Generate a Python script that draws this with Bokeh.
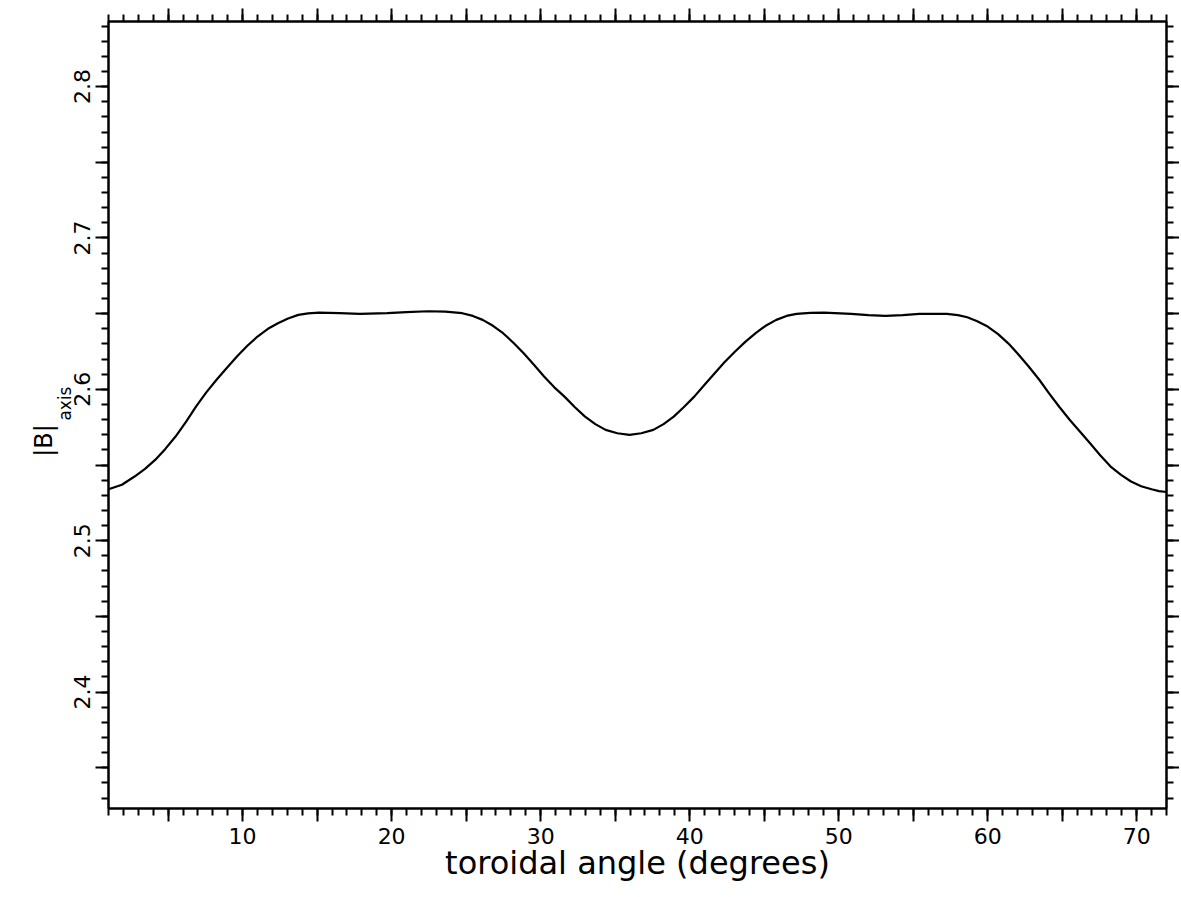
import json
from bokeh.plotting import figure
from bokeh.models import LinearAxis, FixedTicker, CustomJSTickFormatter, Range1d
from bokeh.embed import file_html
from bokeh.resources import INLINE

# ---- data ----
angle_deg = [1.0, 1.9, 2.75, 3.45, 4.13, 4.8, 5.5, 6.2, 6.87, 7.55, 8.25, 8.95, 9.62, 10.3,
             11.0, 11.7, 12.37, 13.05, 13.74, 14.4, 15.12, 16.5, 17.87, 19.7, 21.0, 22.45,
             23.6, 24.74, 25.45, 26.11, 26.8, 27.48, 28.17, 28.86, 29.55, 30.23, 30.9,
             31.6, 32.3, 32.98, 33.67, 34.36, 35.15, 35.96, 36.75, 37.56, 38.25, 38.93,
             39.6, 40.31, 41.0, 41.68, 42.35, 43.05, 43.75, 44.43, 45.1, 45.81, 46.5,
             47.17, 48.1, 49.01, 50.84, 52.0, 53.13, 54.3, 55.42, 57.26, 58.0, 58.63,
             59.3, 60.0, 60.7, 61.38, 62.05, 62.75, 63.45, 64.12, 64.8, 65.5, 66.2,
             66.87, 67.55, 68.25, 68.95, 69.62, 70.3, 71.0, 71.5, 72.0]
b_axis = [2.5340, 2.5370, 2.5424, 2.5475, 2.5534, 2.5605, 2.5688, 2.5785, 2.5886, 2.5978,
          2.6063, 2.6143, 2.6217, 2.6286, 2.6349, 2.6400, 2.6437, 2.6468, 2.6492, 2.6502,
          2.6507, 2.6504, 2.6499, 2.6503, 2.6510, 2.6516, 2.6513, 2.6503, 2.6485, 2.6459,
          2.6420, 2.6371, 2.6308, 2.6238, 2.6162, 2.6085, 2.6015, 2.5952, 2.5882, 2.5820,
          2.5770, 2.5732, 2.5710, 2.5699, 2.5710, 2.5732, 2.5770, 2.5820, 2.5882, 2.5952,
          2.6030, 2.6106, 2.6180, 2.6250, 2.6315, 2.6371, 2.6420, 2.6459, 2.6485, 2.6499,
          2.6505, 2.6507, 2.6499, 2.6490, 2.6485, 2.6490, 2.6499, 2.6499, 2.6490, 2.6476,
          2.6450, 2.6415, 2.6365, 2.6304, 2.6232, 2.6151, 2.6065, 2.5974, 2.5885, 2.5799,
          2.5720, 2.5644, 2.5565, 2.5490, 2.5435, 2.5391, 2.5360, 2.5340, 2.5328, 2.5322]

x_major_ticks = [5, 10, 15, 20, 25, 30, 35, 40, 45, 50, 55, 60, 65, 70]
x_minor_ticks = list(range(1, 73))
y_major_ticks = [2.35, 2.40, 2.45, 2.50, 2.55, 2.60, 2.65, 2.70, 2.75, 2.80]
y_minor_ticks = [round(2.33 + 0.01 * i, 2) for i in range(52)]

x_title = "toroidal angle (degrees)"
y_title_main = "|B|"
y_title_sub = "axis"
# vertical centre (in |B| units) at which each part of the y title sits
y_title_main_at = 2.5662
y_title_sub_at = 2.5906

FONT = "DejaVu Sans"

p = figure(frame_width=1058, frame_height=787,
           x_range=Range1d(1, 72), y_range=Range1d(2.3231, 2.843),
           output_backend="svg", toolbar_location=None,
           min_border_left=108, min_border_top=21, min_border_right=2,
           min_border_bottom=2,
           background_fill_color="white", border_fill_color="white",
           x_axis_location=None, y_axis_location=None)
p.xgrid.visible = False
p.ygrid.visible = False
p.outline_line_color = "black"
p.outline_line_width = 2

xfmt = CustomJSTickFormatter(code="""
const v = Math.round(tick);
return (v % 10 === 0) ? v.toString() : "";
""")
yfmt = CustomJSTickFormatter(code="""
const v = Math.round(tick * 100);
return (v % 10 === 0) ? (v / 100).toFixed(1) : "";
""")


def blank_fmt():
    return CustomJSTickFormatter(code="return '';")


def style(ax, labels=True):
    ax.axis_line_color = "black"
    ax.axis_line_width = 2
    ax.major_tick_line_color = "black"
    ax.minor_tick_line_color = "black"
    ax.major_tick_line_width = 2
    ax.minor_tick_line_width = 2
    ax.major_tick_out = 13
    ax.major_tick_in = 0
    ax.minor_tick_out = 7
    ax.minor_tick_in = 0
    ax.major_label_text_color = "black"
    ax.major_label_text_font = FONT
    ax.major_label_text_font_size = "22px"
    if not labels:
        ax.major_label_text_font_size = "0px"
        ax.major_label_standoff = 0


xb = LinearAxis(ticker=FixedTicker(ticks=x_major_ticks, minor_ticks=x_minor_ticks),
                formatter=xfmt)
style(xb)
xb.major_label_standoff = 6
xb.axis_label = x_title
xb.axis_label_text_font = FONT
xb.axis_label_text_font_style = "normal"
xb.axis_label_text_font_size = "32px"
xb.axis_label_text_color = "black"
xb.axis_label_standoff = -3
p.add_layout(xb, "below")

xt = LinearAxis(ticker=FixedTicker(ticks=x_major_ticks, minor_ticks=x_minor_ticks),
                formatter=blank_fmt())
style(xt, labels=False)
p.add_layout(xt, "above")

yl = LinearAxis(ticker=FixedTicker(ticks=y_major_ticks, minor_ticks=y_minor_ticks),
                formatter=yfmt)
style(yl)
yl.major_label_orientation = "vertical"
yl.major_label_standoff = 5
p.add_layout(yl, "left")

yr = LinearAxis(ticker=FixedTicker(ticks=y_major_ticks, minor_ticks=y_minor_ticks),
                formatter=blank_fmt())
style(yr, labels=False)
p.add_layout(yr, "right")


def title_axis(text, at, size, standoff):
    """A tick-less left axis whose single rotated label is a piece of the y title."""
    ax = LinearAxis(ticker=FixedTicker(ticks=[at], minor_ticks=[]),
                    formatter=CustomJSTickFormatter(code="return %s;" % json.dumps(text)))
    ax.axis_line_alpha = 0
    ax.major_tick_line_alpha = 0
    ax.minor_tick_line_alpha = 0
    ax.major_tick_out = 0
    ax.major_tick_in = 0
    ax.minor_tick_out = 0
    ax.minor_tick_in = 0
    ax.major_label_orientation = "vertical"
    ax.major_label_text_font = FONT
    ax.major_label_text_font_size = size
    ax.major_label_text_color = "black"
    ax.major_label_standoff = standoff
    return ax


p.add_layout(title_axis(y_title_sub, y_title_sub_at, "17px", -4), "left")
p.add_layout(title_axis(y_title_main, y_title_main_at, "24px", -6), "left")

p.line(angle_deg, b_axis, line_color="black", line_width=2.2, line_join="round")

open("out.html", "w").write(file_html(p, INLINE))
